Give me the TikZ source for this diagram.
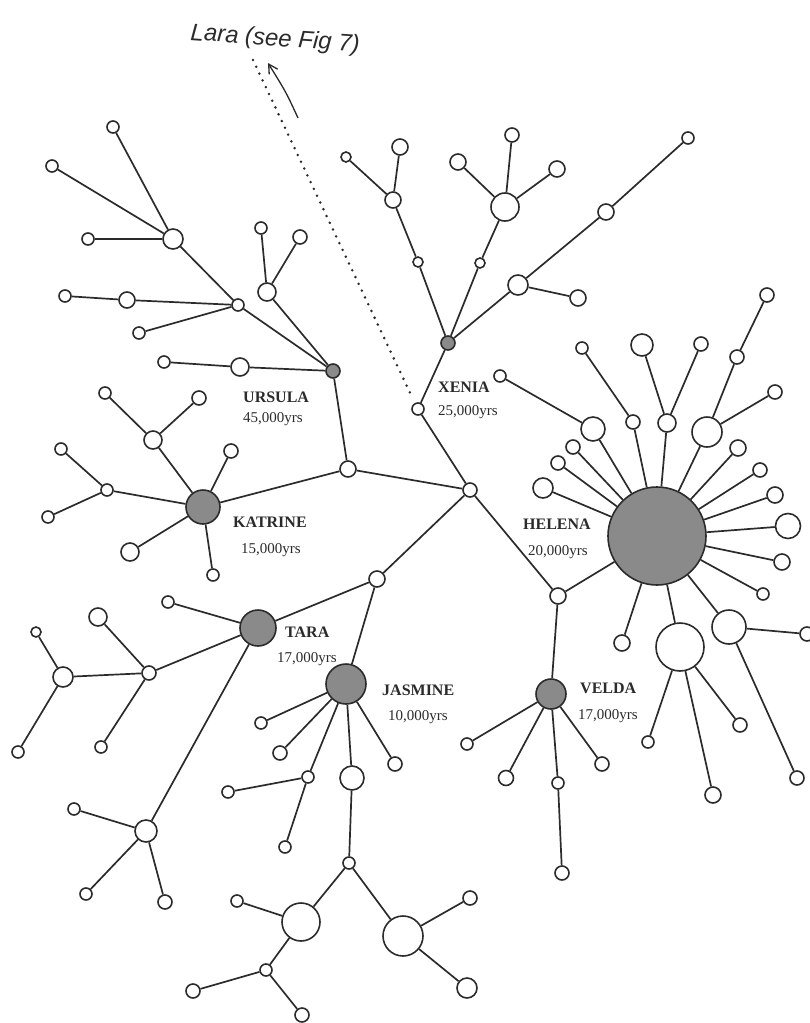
\documentclass[tikz,border=0pt]{standalone}
\usepackage{fontspec}
\setmainfont{Liberation Serif}
\newfontfamily\handfont{Liberation Sans}
\usetikzlibrary{arrows.meta}
\definecolor{ink}{HTML}{2B2B2B}
\definecolor{shade}{HTML}{8A8A8A}
\begin{document}
\begin{tikzpicture}[x=1pt,y=-1pt,
  oc/.style={circle,draw=ink,fill=white,line width=1.6pt,inner sep=0pt,minimum size=#1},
  sc/.style={circle,draw=ink,fill=shade,line width=1.6pt,inner sep=0pt,minimum size=#1},
  link/.style={draw=ink,line width=1.7pt},
  hname/.style={anchor=base west,inner sep=0pt,font=\fontsize{16}{16}\selectfont\bfseries,text=ink},
  hage/.style={anchor=base west,inner sep=0pt,font=\fontsize{15}{15}\selectfont,text=ink}]
\useasboundingbox (0,0) rectangle (810,1023);
% ---- main haplogroup nodes
\node[oc=14] (C0) at (470,490) {};
\node[oc=12] (N1) at (418,409) {};
\node[sc=14] (XEN) at (448,343) {};
\node[sc=14] (URS) at (333,371) {};
\node[oc=16] (J1) at (348,469) {};
\node[sc=34] (KAT) at (203,507) {};
\node[sc=98] (HEL) at (657,536) {};
\node[oc=16] (H1) at (558,596) {};
\node[sc=30] (VEL) at (551,694) {};
\node[sc=40] (JAS) at (346,684) {};
\node[sc=36] (TAR) at (258,628) {};
\node[oc=16] (T1) at (377,579) {};
% ---- Ursula subtree
\node[oc=18] (u1) at (240,367) {};
\node[oc=12] (u1a) at (164,362) {};
\node[oc=12] (u2) at (238,305) {};
\node[oc=16] (u2a) at (127,300) {};
\node[oc=12] (u2b) at (65,296) {};
\node[oc=12] (u2c) at (139,333) {};
\node[oc=20] (u3) at (173,239) {};
\node[oc=12] (u3a) at (113,127) {};
\node[oc=12] (u3b) at (52,166) {};
\node[oc=12] (u3c) at (88,239) {};
\node[oc=18] (u4) at (267,292) {};
\node[oc=12] (u4a) at (261,228) {};
\node[oc=14] (u4b) at (300,237) {};
% ---- Xenia subtree
\node[oc=10] (x1) at (418,262) {};
\node[oc=16] (x1a) at (393,200) {};
\node[oc=16] (x1b) at (400,147) {};
\node[oc=10] (x1c) at (346,157) {};
\node[oc=10] (x2) at (480,263) {};
\node[oc=28] (x2a) at (505,207) {};
\node[oc=14] (x2b) at (512,135) {};
\node[oc=16] (x2c) at (458,162) {};
\node[oc=16] (x2d) at (557,169) {};
\node[oc=20] (x3) at (518,285) {};
\node[oc=16] (x3a) at (606,212) {};
\node[oc=12] (x3b) at (688,138) {};
\node[oc=16] (x3c) at (578,298) {};
% ---- Helena subtree
\node[oc=12] (h1) at (582,348) {};
\node[oc=14] (h1j) at (633,422) {};
\node[oc=22] (h2) at (642,345) {};
\node[oc=14] (h3) at (701,344) {};
\node[oc=18] (h23) at (667,423) {};
\node[oc=14] (h4) at (767,295) {};
\node[oc=14] (h4j) at (737,357) {};
\node[oc=30] (h4k) at (707,432) {};
\node[oc=14] (h4m) at (775,392) {};
\node[oc=12] (h5) at (500,376) {};
\node[oc=24] (h5j) at (593,429) {};
\node[oc=14] (h6) at (573,447) {};
\node[oc=14] (h7) at (558,463) {};
\node[oc=20] (h8) at (543,488) {};
\node[oc=16] (h9) at (738,448) {};
\node[oc=14] (h10) at (760,470) {};
\node[oc=16] (h11) at (775,495) {};
\node[oc=25] (h12) at (788,526) {};
\node[oc=16] (h13) at (782,562) {};
\node[oc=12] (h14) at (763,594) {};
\node[oc=16] (h15) at (622,643) {};
\node[oc=48] (h16) at (680,647) {};
\node[oc=12] (h16a) at (648,742) {};
\node[oc=14] (h16b) at (740,725) {};
\node[oc=16] (h16c) at (713,795) {};
\node[oc=34] (h17) at (729,627) {};
\node[oc=14] (h17a) at (807,634) {};
\node[oc=14] (h17b) at (797,778) {};
% ---- Velda subtree
\node[oc=12] (v1) at (467,744) {};
\node[oc=15] (v2) at (506,778) {};
\node[oc=12] (v3) at (558,783) {};
\node[oc=14] (v3a) at (562,873) {};
\node[oc=14] (v4) at (602,764) {};
% ---- Katrine subtree
\node[oc=18] (k1) at (153,440) {};
\node[oc=12] (k1a) at (105,393) {};
\node[oc=14] (k1b) at (199,398) {};
\node[oc=14] (k2) at (231,451) {};
\node[oc=12] (k3) at (107,490) {};
\node[oc=12] (k3a) at (61,449) {};
\node[oc=12] (k3b) at (48,517) {};
\node[oc=18] (k4) at (130,552) {};
\node[oc=12] (k5) at (213,575) {};
% ---- Tara subtree
\node[oc=12] (t1) at (168,602) {};
\node[oc=14] (t2) at (149,673) {};
\node[oc=18] (t2a) at (98,617) {};
\node[oc=20] (t2b) at (63,677) {};
\node[oc=12] (t2c) at (101,747) {};
\node[oc=10] (t2d) at (36,632) {};
\node[oc=12] (t2e) at (18,752) {};
\node[oc=22] (t3) at (146,831) {};
\node[oc=12] (t3a) at (74,809) {};
\node[oc=12] (t3b) at (86,894) {};
\node[oc=14] (t3c) at (165,902) {};
% ---- Jasmine subtree
\node[oc=12] (j1) at (261,723) {};
\node[oc=14] (j2) at (280,753) {};
\node[oc=12] (j3) at (308,777) {};
\node[oc=12] (j3a) at (228,792) {};
\node[oc=12] (j3b) at (285,847) {};
\node[oc=24] (j4) at (352,778) {};
\node[oc=12] (j5) at (349,863) {};
\node[oc=38] (j6) at (301,922) {};
\node[oc=12] (j6a) at (237,901) {};
\node[oc=12] (j6b) at (266,970) {};
\node[oc=14] (j6c) at (193,991) {};
\node[oc=14] (j6d) at (302,1015) {};
\node[oc=40] (j7) at (403,936) {};
\node[oc=14] (j7a) at (470,898) {};
\node[oc=20] (j7b) at (467,988) {};
\node[oc=14] (j8) at (395,764) {};
% ---- connectors
\foreach \a/\b in {C0/N1,N1/XEN,C0/J1,J1/URS,J1/KAT,C0/H1,H1/HEL,H1/VEL,C0/T1,T1/TAR,T1/JAS,
  URS/u1,u1/u1a,URS/u2,u2/u2a,u2a/u2b,u2/u2c,u2/u3,u3/u3a,u3/u3b,u3/u3c,URS/u4,u4/u4a,u4/u4b,
  XEN/x1,x1/x1a,x1a/x1b,x1a/x1c,XEN/x2,x2/x2a,x2a/x2b,x2a/x2c,x2a/x2d,XEN/x3,x3/x3a,x3a/x3b,x3/x3c,
  h1/h1j,h1j/HEL,h2/h23,h3/h23,h23/HEL,h4/h4j,h4j/h4k,h4k/HEL,h4k/h4m,h5/h5j,h5j/HEL,
  h6/HEL,h7/HEL,h8/HEL,h9/HEL,h10/HEL,h11/HEL,h12/HEL,h13/HEL,h14/HEL,h15/HEL,
  HEL/h16,h16/h16a,h16/h16b,h16/h16c,HEL/h17,h17/h17a,h17/h17b,
  VEL/v1,VEL/v2,VEL/v3,v3/v3a,VEL/v4,
  KAT/k1,k1/k1a,k1/k1b,KAT/k2,KAT/k3,k3/k3a,k3/k3b,KAT/k4,KAT/k5,
  TAR/t1,TAR/t2,t2/t2a,t2/t2b,t2/t2c,t2b/t2d,t2b/t2e,TAR/t3,t3/t3a,t3/t3b,t3/t3c,
  JAS/j1,JAS/j2,JAS/j3,j3/j3a,j3/j3b,JAS/j4,j4/j5,j5/j6,j6/j6a,j6/j6b,j6b/j6c,j6b/j6d,
  j5/j7,j7/j7a,j7/j7b,JAS/j8}
  \draw[link] (\a) -- (\b);
% ---- labels
\node[hname] (lU) at (243,402) {URSULA};
\node[hage] (aU) at (243,422) {45,000yrs};
\node[hname] (lX) at (438,392) {XENIA};
\node[hage] (aX) at (438,415) {25,000yrs};
\node[hname] (lK) at (233,527) {KATRINE};
\node[hage] (aK) at (241,553) {15,000yrs};
\node[hname] (lH) at (523,529) {HELENA};
\node[hage] (aH) at (528,555) {20,000yrs};
\node[hname] (lT) at (285,637) {TARA};
\node[hage] (aT) at (277,662) {17,000yrs};
\node[hname] (lJ) at (382,695) {JASMINE};
\node[hage] (aJ) at (388,720) {10,000yrs};
\node[hname] (lV) at (580,693) {VELDA};
\node[hage] (aV) at (578,719) {17,000yrs};
% ---- handwritten note, arrow and dotted link to Lara
\node[anchor=base west,inner sep=0pt,rotate=-4,text=ink,
      font=\handfont\itshape\fontsize{24}{24}\selectfont] (lara) at (190,40) {Lara (see Fig 7)};
\coordinate (arT) at (298,118);
\coordinate (arH) at (268,63);
\draw[ink,line width=1.3pt,-{Straight Barb[length=9pt,width=10pt]}] (arT) .. controls (286,92) .. (arH);
\coordinate (dotA) at (253,60);
\coordinate (dotB) at (412,397);
\draw[ink,line width=2.8pt,line cap=round,dash pattern=on 0pt off 7.5pt] (dotA) -- (dotB);
\end{tikzpicture}
\end{document}
